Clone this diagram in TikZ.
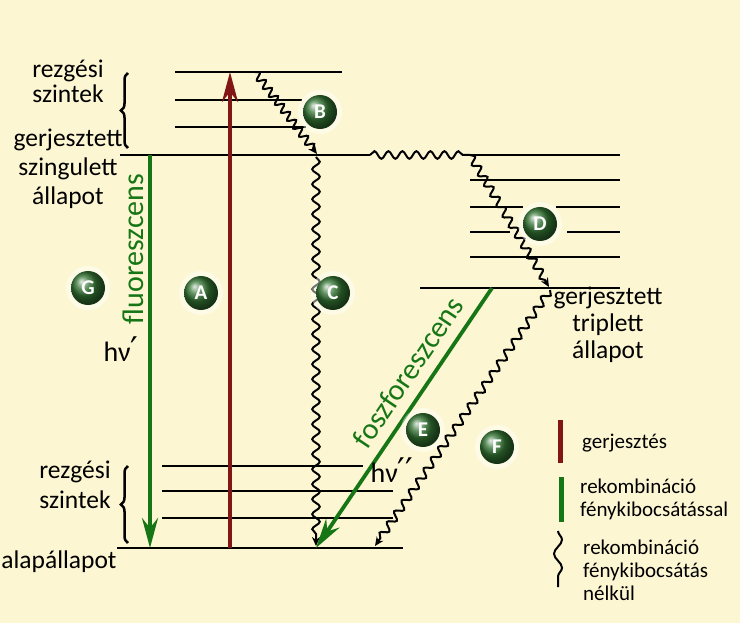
\documentclass[tikz,border=0pt]{standalone}
\usepackage{fontspec}
\setmainfont{Carlito}
\newfontfamily\symfont{DejaVu Sans}
\usetikzlibrary{arrows.meta,positioning,calc,decorations.pathmorphing,decorations.pathreplacing}
\definecolor{cream}{RGB}{252,246,210}
\definecolor{excred}{RGB}{130,22,22}
\definecolor{emitgreen}{RGB}{22,118,22}
\definecolor{balldark}{RGB}{50,115,50}
\newcommand{\primemark}{{\symfont\fontsize{34}{34}\selectfont ′}}

\begin{document}
\begin{tikzpicture}[x=1pt,y=-1pt,
    font=\fontsize{25.5}{27}\selectfont,
    lvl/.style={line width=1.4pt},
    wave/.style={line width=2pt,decorate,decoration={snake,segment length=#1,amplitude=3.8pt,post length=5pt}},
    wave/.default=14pt,
    wavearrow/.style={wave=#1,-{Stealth[length=9pt,width=8pt]}},
    wavearrow/.default=14pt,
    trans/.style={line width=3.8pt,#1,-{Stealth[length=30pt,width=16pt,inset=10pt]}},
    ball/.style={circle,shading=ball,ball color=balldark,minimum size=34pt,inner sep=0pt,text=white,font=\fontsize{21}{21}\selectfont\bfseries,preaction={draw=white,line width=10pt,draw opacity=0.45}},
    lab/.style={align=center,inner sep=0pt},
    greenlab/.style={lab,text=emitgreen,font=\fontsize{30}{30}\selectfont},
    hnu/.style={lab,font=\fontsize{28}{28}\selectfont},
    legend/.style={align=left,anchor=west,inner sep=0pt,font=\fontsize{21}{23}\selectfont},
    brace/.style={decorate,decoration={brace,amplitude=7pt},line width=2.5pt}
]
\fill[cream] (0,0) rectangle (740,623);
\useasboundingbox (0,0) rectangle (740,623);

% singlet levels
\draw[lvl] (175,72) -- (342,72);
\foreach \y/\xe in {100/302,127/306}
  \draw[lvl] (175,\y) -- (\xe,\y);
\draw[lvl] (120,155) -- (370,155);
\draw[lvl] (470,155) -- (620,155);

% triplet levels
\foreach \y in {180,257}
  \draw[lvl] (470,\y) -- (620,\y);
\draw[lvl] (470,207) -- (523,207) (556,207) -- (620,207);
\draw[lvl] (470,232) -- (510,232) (567,232) -- (620,232);
\draw[lvl] (420,288) -- (620,288);

% ground levels
\draw[lvl] (162,466) -- (363,466);
\foreach \y in {491,518}
  \draw[lvl] (162,\y) -- (393,\y);
\draw[lvl] (117,548) -- (403,548);

% end points
\coordinate (s2) at (255,72);
\coordinate (s0) at (317,154);
\coordinate (isc1) at (370,155);
\coordinate (isc2) at (470,155);
\coordinate (t0) at (549,287);
\coordinate (t1) at (550,290);
\coordinate (c0) at (316,157);
\coordinate (g0) at (316,546);
\coordinate (gF) at (375,546);
\coordinate (fl1) at (150,155);
\coordinate (fl2) at (150,548);
\coordinate (ex1) at (230,548);
\coordinate (ex2) at (230,72);
\coordinate (ph1) at (492,288);
\coordinate (ph2) at (316,548);

% radiationless
\draw[wavearrow=10pt] (s2) -- (s0);
\draw[wavearrow=15pt] (c0) -- (g0);
\draw[wave] (isc1) -- (isc2);
\draw[wavearrow=12pt] (isc2) -- (t0);
\draw[wavearrow=13pt] (t1) -- (gF);

% radiative
\draw[trans=excred] (ex1) -- (ex2);
\draw[trans=emitgreen] (fl1) -- (fl2);
\draw[trans=emitgreen] (ph1) -- (ph2);

% labels
\node[lab,font=\fontsize{25.5}{25}\selectfont] (rezg1) at (68,81) {rezgési\\szintek};
\draw[brace] (128,148) -- (128,73);
\node[lab,font=\fontsize{25.5}{29}\selectfont] (singlet) at (68,169) {gerjesztett\\szingulett\\állapot};
\node[greenlab,rotate=90] (fluor) at (133,249) {fluoreszcens};
\node[hnu] (hnu1) at (121,349) {hν\primemark};
\node[lab,font=\fontsize{25.5}{30}\selectfont] (rezg2) at (75,485) {rezgési\\szintek};
\draw[brace] (128,543) -- (128,466);
\node[lab] (ground) at (59,562) {alapállapot};
\node[lab] (triplet) at (608,325) {gerjesztett\\triplett\\állapot};
\node[greenlab,rotate=56] (phos) at (408,372) {foszforeszcens};
\node[hnu] (hnu2) at (392,470) {hν\primemark\primemark};

% markers
\node[ball] (A) at (201,293) {A};
\node[ball] (B) at (320,112) {B};
\node[ball] (C) at (333,293) {C};
\node[ball] (D) at (540,224) {D};
\node[ball] (E) at (423,430) {E};
\node[ball] (F) at (497,447) {F};
\node[ball] (G) at (88,288) {G};

% legend
\draw[excred,line width=5pt] (560,420) -- (560,463);
\node[legend] (lg1) at (582,443) {gerjesztés};
\draw[emitgreen,line width=5pt] (561,477) -- (561,522);
\node[legend] (lg2) at (580,499) {rekombináció\\fénykibocsátással};
\draw[line width=2pt,decorate,decoration={snake,segment length=28pt,amplitude=4pt}] (558,531) -- (558,587);
\node[legend] (lg3) at (583,570) {rekombináció\\fénykibocsátás\\nélkül};
\end{tikzpicture}
\end{document}
